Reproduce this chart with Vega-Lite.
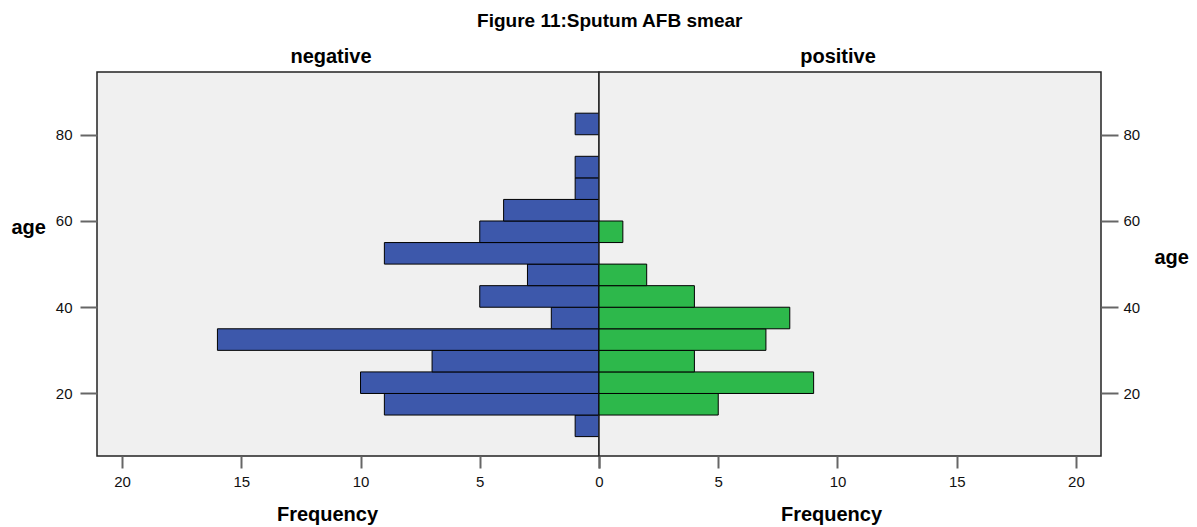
{
  "$schema": "https://vega.github.io/schema/vega-lite/v6.json",
  "padding": {"left": 10, "top": 12, "right": 5, "bottom": 5},
  "bounds": "flush",
  "config": {
    "font": "Liberation Sans",
    "view": {"fill": "#f0f0f0", "stroke": "#222222", "strokeWidth": 1.5},
    "axis": {
      "grid": false,
      "domain": false,
      "labelFlush": false,
      "labelFont": "Liberation Sans",
      "labelFontSize": 15,
      "labelColor": "#111111",
      "tickColor": "#666666",
      "tickWidth": 2,
      "titleFont": "Liberation Sans",
      "titleFontSize": 20,
      "titleFontWeight": "bold",
      "titleColor": "#000000"
    },
    "title": {"font": "Liberation Sans", "fontWeight": "bold", "color": "#000000"}
  },
  "title": {"text": "Figure 11:Sputum AFB smear", "fontSize": 19, "anchor": "middle", "dx": 10, "offset": 15},
  "data": {
    "values": [
      {"status": "negative", "lo": 10, "hi": 15, "count": 1},
      {"status": "negative", "lo": 15, "hi": 20, "count": 9},
      {"status": "negative", "lo": 20, "hi": 25, "count": 10},
      {"status": "negative", "lo": 25, "hi": 30, "count": 7},
      {"status": "negative", "lo": 30, "hi": 35, "count": 16},
      {"status": "negative", "lo": 35, "hi": 40, "count": 2},
      {"status": "negative", "lo": 40, "hi": 45, "count": 5},
      {"status": "negative", "lo": 45, "hi": 50, "count": 3},
      {"status": "negative", "lo": 50, "hi": 55, "count": 9},
      {"status": "negative", "lo": 55, "hi": 60, "count": 5},
      {"status": "negative", "lo": 60, "hi": 65, "count": 4},
      {"status": "negative", "lo": 65, "hi": 70, "count": 1},
      {"status": "negative", "lo": 70, "hi": 75, "count": 1},
      {"status": "negative", "lo": 80, "hi": 85, "count": 1},
      {"status": "positive", "lo": 15, "hi": 20, "count": 5},
      {"status": "positive", "lo": 20, "hi": 25, "count": 9},
      {"status": "positive", "lo": 25, "hi": 30, "count": 4},
      {"status": "positive", "lo": 30, "hi": 35, "count": 7},
      {"status": "positive", "lo": 35, "hi": 40, "count": 8},
      {"status": "positive", "lo": 40, "hi": 45, "count": 4},
      {"status": "positive", "lo": 45, "hi": 50, "count": 2},
      {"status": "positive", "lo": 55, "hi": 60, "count": 1}
    ]
  },
  "spacing": 0,
  "hconcat": [
    {
      "width": 502,
      "height": 384,
      "title": {"text": "negative", "fontSize": 20, "dx": -17, "offset": 5},
      "transform": [{"filter": "datum.status == 'negative'"}],
      "mark": {"type": "rect", "color": "#3d58ab", "stroke": "#000000", "strokeWidth": 1},
      "encoding": {
        "x": {
          "field": "count", "type": "quantitative",
          "scale": {"domain": [0, 21.05], "reverse": true, "nice": false},
          "axis": {"values": [0, 5, 10, 15, 20], "title": "Frequency", "tickSize": 12, "labelPadding": 6, "titleX": 230, "titleY": 64, "titleBaseline": "alphabetic", "titleAlign": "center"}
        },
        "x2": {"datum": 0},
        "y": {
          "field": "lo", "type": "quantitative",
          "scale": {"domain": [5.5, 94.55], "nice": false, "zero": false},
          "axis": {"values": [20, 40, 60, 80], "title": "age", "tickSize": 17, "labelPadding": 8, "titleAngle": 0, "titleX": -86, "titleY": 161, "titleAlign": "left", "titleBaseline": "alphabetic"}
        },
        "y2": {"field": "hi"}
      }
    },
    {
      "width": 502,
      "height": 384,
      "title": {"text": "positive", "fontSize": 20, "dx": -12, "offset": 5},
      "transform": [{"filter": "datum.status == 'positive'"}],
      "mark": {"type": "rect", "color": "#2db84b", "stroke": "#000000", "strokeWidth": 1},
      "encoding": {
        "x": {
          "field": "count", "type": "quantitative",
          "scale": {"domain": [0, 21.05], "nice": false},
          "axis": {"values": [0, 5, 10, 15, 20], "labelExpr": "datum.value == 0 ? '' : datum.label", "title": "Frequency", "tickSize": 12, "labelPadding": 6, "titleX": 232, "titleY": 64, "titleBaseline": "alphabetic", "titleAlign": "center"}
        },
        "x2": {"datum": 0},
        "y": {
          "field": "lo", "type": "quantitative",
          "scale": {"domain": [5.5, 94.55], "nice": false, "zero": false},
          "axis": {"orient": "right", "values": [20, 40, 60, 80], "title": "age", "tickSize": 17, "labelPadding": 5, "titleAngle": 0, "titleX": 53, "titleY": 191, "titleAlign": "left", "titleBaseline": "alphabetic"}
        },
        "y2": {"field": "hi"}
      }
    }
  ]
}
